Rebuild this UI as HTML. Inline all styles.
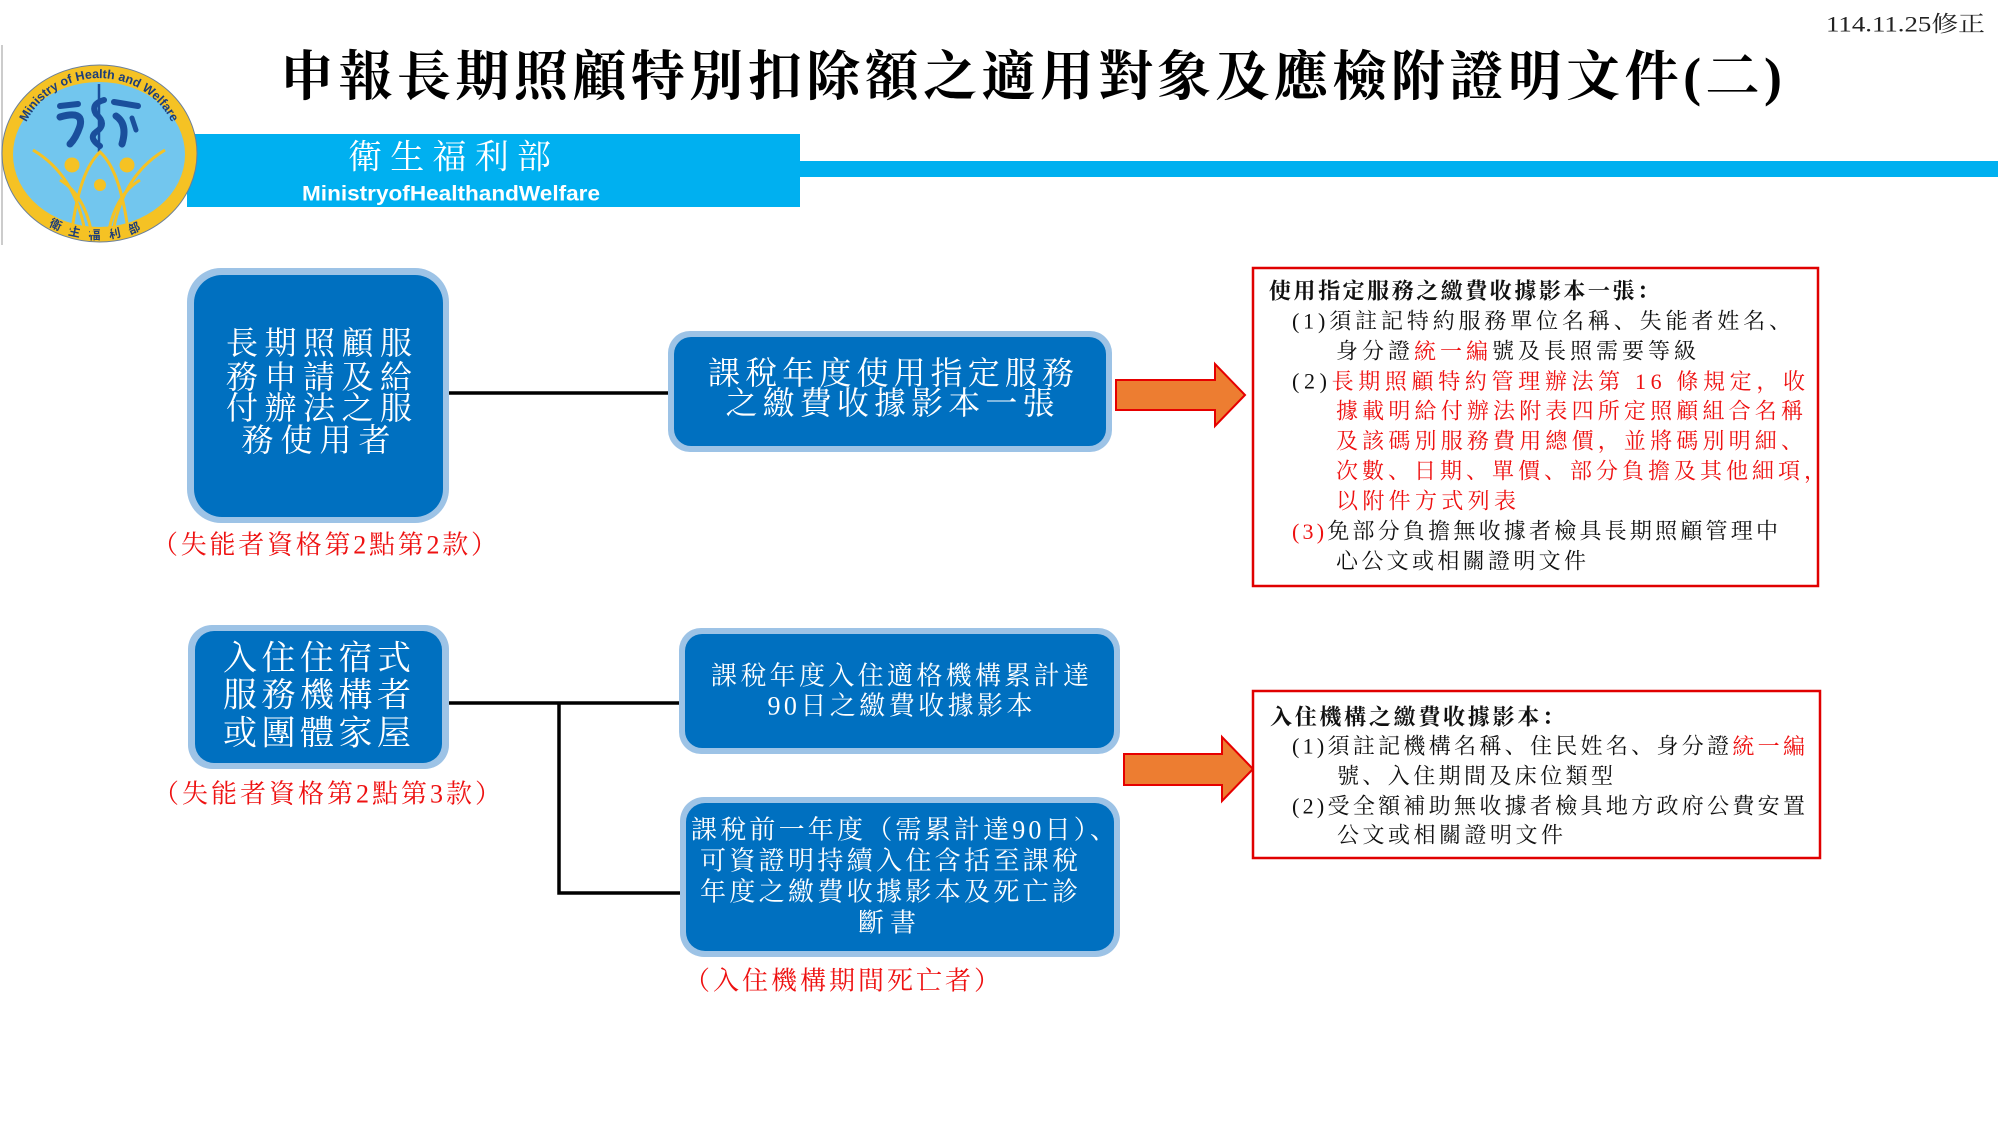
<!DOCTYPE html>
<html><head><meta charset="utf-8"><style>
html,body{margin:0;padding:0;background:#fff;}
svg{display:block;}
.s{font-family:"Liberation Serif","Noto Serif CJK SC",serif;}
.ss{font-family:"Liberation Sans","Noto Sans CJK TC",sans-serif;}
</style></head><body>
<svg width="2000" height="1125" viewBox="0 0 2000 1125" xmlns="http://www.w3.org/2000/svg">
<rect width="2000" height="1125" fill="#fff"/>

<!-- date -->
<text class="s" x="1826" y="24" font-size="22" fill="#222" dominant-baseline="central" textLength="159" lengthAdjust="spacingAndGlyphs">114.11.25修正</text>

<!-- title -->
<text class="s" x="280" y="77" font-size="54" font-weight="700" fill="#000" dominant-baseline="central" textLength="1502" lengthAdjust="spacing">申報長期照顧特別扣除額之適用對象及應檢附證明文件(二)</text>

<!-- header bands -->
<rect x="187" y="134" width="613" height="73" fill="#00b0f0"/>
<rect x="800" y="161" width="1198" height="16" fill="#00b0f0"/>
<text class="s" x="348" y="158" font-size="34" fill="#fff" dominant-baseline="central" textLength="203" lengthAdjust="spacing">衛生福利部</text>
<text class="ss" x="302" y="194" font-size="21" font-weight="700" fill="#fff" dominant-baseline="central" textLength="298" lengthAdjust="spacingAndGlyphs">MinistryofHealthandWelfare</text>

<!-- logo -->
<line x1="2" y1="45" x2="2" y2="245" stroke="#bbb" stroke-width="1.5"/>
<ellipse cx="99.5" cy="153.5" rx="97.5" ry="88.5" fill="#f5c224" stroke="#6b7f99" stroke-width="1"/>
<ellipse cx="99" cy="154.5" rx="86" ry="72.5" fill="#72c6ee"/>
<defs>
<path id="topArc" d="M 21.7 173.7 A 80 76 0 1 1 176.3 173.7"/>
<path id="botArc" d="M 45.7 223.6 A 93 85 0 0 0 152.3 223.6"/>
</defs>
<text class="ss" font-size="12.5" font-weight="700" fill="#1c3d7a"><textPath href="#topArc" startOffset="50%" text-anchor="middle">Ministry of Health and Welfare</textPath></text>
<text class="ss" font-size="12" font-weight="700" fill="#1c3d7a" letter-spacing="9"><textPath href="#botArc" startOffset="50%" text-anchor="middle">衛生福利部</textPath></text>
<g fill="none" stroke="#1a4f9c" stroke-linecap="round">
<path d="M60 106 L78 104" stroke-width="6"/>
<path d="M60 117 Q84 110 80 126 Q76 138 70 144" stroke-width="7"/>
<path d="M104 100 Q90 104 96 114 Q108 124 96 132 Q88 138 100 146" stroke-width="6"/>
<path d="M114 102 L138 106" stroke-width="6"/>
<path d="M116 116 Q128 124 122 144" stroke-width="7"/>
<path d="M132 118 L136 130" stroke-width="5"/>
</g>
<line x1="99" y1="84" x2="99" y2="152" stroke="#1a4f9c" stroke-width="2.5"/>
<g fill="none" stroke="#f5c224" stroke-width="3">
<path d="M33 150 Q75 175 85 232"/>
<path d="M165 150 Q123 175 113 232"/>
<path d="M72 230 Q80 170 100 152 Q120 170 128 230"/>
<path d="M60 180 Q85 195 92 235"/>
<path d="M140 180 Q115 195 108 235"/>
</g>
<circle cx="72" cy="165" r="7.5" fill="#f5c224"/>
<circle cx="127" cy="165" r="7.5" fill="#f5c224"/>
<circle cx="100" cy="185" r="6" fill="#f5c224"/>

<!-- connectors -->
<line x1="447" y1="393" x2="669" y2="393" stroke="#000" stroke-width="3.5"/>
<polyline points="449,703 679,703" fill="none" stroke="#000" stroke-width="3.5"/>
<polyline points="559,703 559,893 681,893" fill="none" stroke="#000" stroke-width="3.5"/>

<!-- Box 1 -->
<rect x="187" y="268" width="262" height="255" rx="34" fill="#9dc3e6"/>
<rect x="194" y="275" width="249" height="242" rx="28" fill="#0070c0"/>
<g class="s" font-size="32" fill="#fff" text-anchor="middle" dominant-baseline="central">
<text x="319" y="343" textLength="186" lengthAdjust="spacing">長期照顧服</text>
<text x="319" y="377" textLength="186" lengthAdjust="spacing">務申請及給</text>
<text x="319" y="408" textLength="186" lengthAdjust="spacing">付辦法之服</text>
<text x="316" y="440" textLength="149" lengthAdjust="spacing">務使用者</text>
</g>
<text class="s" x="152" y="545" font-size="26" fill="#ee1111" dominant-baseline="central" textLength="345" lengthAdjust="spacing">（失能者資格第2點第2款）</text>

<!-- Box 2 -->
<rect x="668" y="331" width="444" height="121" rx="22" fill="#9dc3e6"/>
<rect x="674" y="337" width="432" height="109" rx="17" fill="#0070c0"/>
<g class="s" font-size="32" fill="#fff" text-anchor="middle" dominant-baseline="central">
<text x="891" y="373" textLength="366" lengthAdjust="spacing">課稅年度使用指定服務</text>
<text x="890" y="403" textLength="329" lengthAdjust="spacing">之繳費收據影本一張</text>
</g>

<!-- Arrow 1 -->
<polygon points="1116,380 1215,380 1215,364 1245,395 1215,426 1215,410 1116,410" fill="#ed7d31" stroke="#e60000" stroke-width="2" stroke-linejoin="miter"/>

<!-- Right box 1 -->
<rect x="1253" y="268" width="565" height="318" fill="#fff" stroke="#e00000" stroke-width="2.5"/>
<g class="s" font-size="22" fill="#111" dominant-baseline="central">
<text x="1269" y="291" font-weight="700" textLength="390" lengthAdjust="spacing">使用指定服務之繳費收據影本一張：</text>
<text x="1292" y="321" textLength="499" lengthAdjust="spacing">(1)須註記特約服務單位名稱、失能者姓名、</text>
<text x="1336" y="351" textLength="360" lengthAdjust="spacing">身分證<tspan fill="#ee1111">統一編</tspan>號及長照需要等級</text>
<text x="1292" y="381" textLength="513" lengthAdjust="spacing">(2)<tspan fill="#ee1111">長期照顧特約管理辦法第 16 條規定，收</tspan></text>
<text x="1336" y="411" fill="#ee1111" textLength="467" lengthAdjust="spacing">據載明給付辦法附表四所定照顧組合名稱</text>
<text x="1336" y="441" fill="#ee1111" textLength="467" lengthAdjust="spacing">及該碼別服務費用總價，並將碼別明細、</text>
<text x="1336" y="471" fill="#ee1111" textLength="490" lengthAdjust="spacing">次數、日期、單價、部分負擔及其他細項，</text>
<text x="1336" y="501" fill="#ee1111" textLength="180" lengthAdjust="spacing">以附件方式列表</text>
<text x="1292" y="531" textLength="486" lengthAdjust="spacing"><tspan fill="#ee1111">(3)</tspan>免部分負擔無收據者檢具長期照顧管理中</text>
<text x="1336" y="561" textLength="250" lengthAdjust="spacing">心公文或相關證明文件</text>
</g>

<!-- Box 3 -->
<rect x="188" y="625" width="261" height="144" rx="24" fill="#9dc3e6"/>
<rect x="195" y="631" width="247" height="132" rx="19" fill="#0070c0"/>
<g class="s" font-size="34" fill="#fff" text-anchor="middle" dominant-baseline="central">
<text x="317" y="659" textLength="188" lengthAdjust="spacing">入住住宿式</text>
<text x="317" y="696" textLength="188" lengthAdjust="spacing">服務機構者</text>
<text x="317" y="734" textLength="188" lengthAdjust="spacing">或團體家屋</text>
</g>
<text class="s" x="153" y="794" font-size="26" fill="#ee1111" dominant-baseline="central" textLength="348" lengthAdjust="spacing">（失能者資格第2點第3款）</text>

<!-- Box 4 -->
<rect x="679" y="628" width="441" height="126" rx="22" fill="#9dc3e6"/>
<rect x="685" y="634" width="429" height="114" rx="17" fill="#0070c0"/>
<g class="s" font-size="26" fill="#fff" text-anchor="middle" dominant-baseline="central">
<text x="900" y="676" textLength="378" lengthAdjust="spacing">課稅年度入住適格機構累計達</text>
<text x="900" y="706" textLength="265" lengthAdjust="spacing">90日之繳費收據影本</text>
</g>

<!-- Box 5 -->
<rect x="680" y="797" width="440" height="160" rx="24" fill="#9dc3e6"/>
<rect x="686" y="803" width="428" height="148" rx="19" fill="#0070c0"/>
<g class="s" font-size="26" fill="#fff" dominant-baseline="central">
<text x="691" y="830" textLength="425" lengthAdjust="spacing">課稅前一年度（需累計達90日）、</text>
<text x="700" y="861" textLength="378" lengthAdjust="spacing">可資證明持續入住含括至課稅</text>
<text x="700" y="892" textLength="378" lengthAdjust="spacing">年度之繳費收據影本及死亡診</text>
<text x="887" y="923" text-anchor="middle" textLength="58" lengthAdjust="spacing">斷書</text>
</g>
<text class="s" x="684" y="981" font-size="26" fill="#ee1111" dominant-baseline="central" textLength="316" lengthAdjust="spacing">（入住機構期間死亡者）</text>

<!-- Arrow 2 -->
<polygon points="1124,754 1222,754 1222,737 1253,769 1222,801 1222,785 1124,785" fill="#ed7d31" stroke="#e60000" stroke-width="2"/>

<!-- Right box 2 -->
<rect x="1253" y="691" width="567" height="167" fill="#fff" stroke="#e00000" stroke-width="2.5"/>
<g class="s" font-size="22" fill="#111" dominant-baseline="central">
<text x="1270" y="717" font-weight="700" textLength="294" lengthAdjust="spacing">入住機構之繳費收據影本：</text>
<text x="1292" y="746" textLength="513" lengthAdjust="spacing">(1)須註記機構名稱、住民姓名、身分證<tspan fill="#ee1111">統一編</tspan></text>
<text x="1337" y="776" textLength="276" lengthAdjust="spacing">號、入住期間及床位類型</text>
<text x="1292" y="806" textLength="513" lengthAdjust="spacing">(2)受全額補助無收據者檢具地方政府公費安置</text>
<text x="1337" y="835" textLength="226" lengthAdjust="spacing">公文或相關證明文件</text>
</g>
</svg>
</body></html>
